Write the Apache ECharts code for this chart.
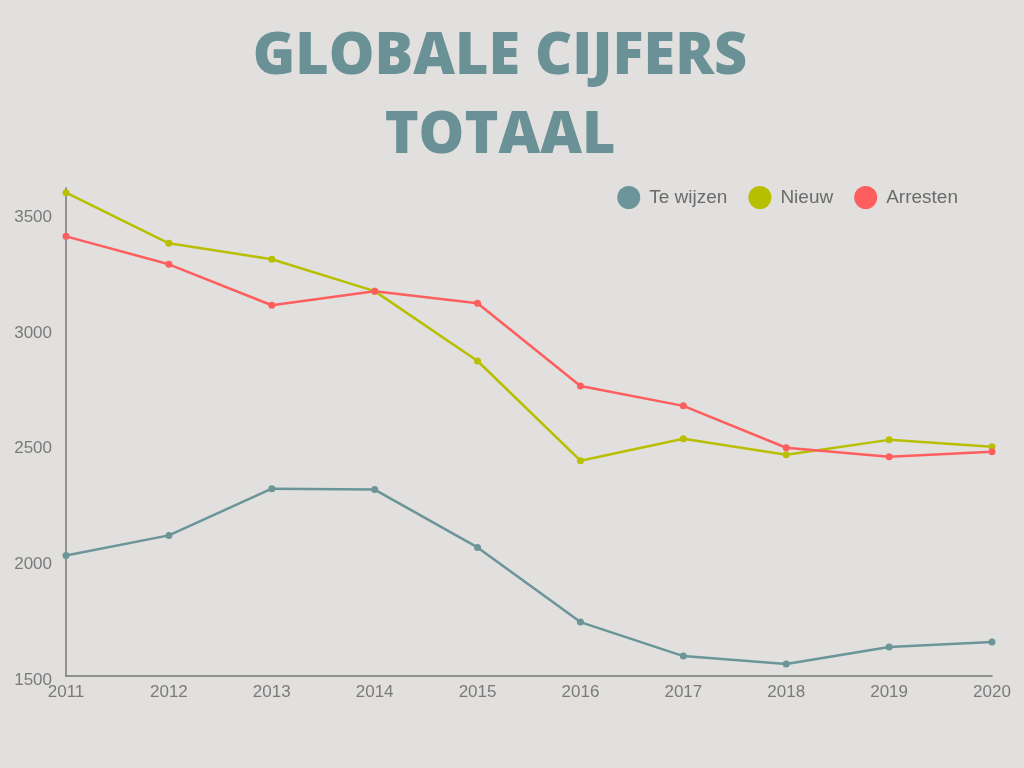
<!DOCTYPE html>
<html><head><meta charset="utf-8">
<script src="https://cdn.jsdelivr.net/npm/echarts@6/dist/echarts.min.js"></script>
<style>html,body{margin:0;padding:0;background:#e1e0de;}#c{width:1024px;height:768px;}</style>
</head><body><div id="c"></div>
<script>
var years = ['2011','2012','2013','2014','2015','2016','2017','2018','2019','2020'];
var teWijzen = [2021, 2108, 2310, 2306, 2056, 1733, 1586, 1552, 1625, 1647];
var nieuw = [3590, 3371, 3302, 3164, 2862, 2431, 2526, 2457, 2521, 2491];
var arresten = [3401, 3280, 3103, 3164, 3112, 2754, 2668, 2487, 2448, 2470];
var seriesNames = ['Te wijzen', 'Nieuw', 'Arresten'];
var colors = ['#6b9598', '#b7bf00', '#ff5e5e'];

var chart = echarts.init(document.getElementById('c'));
function mk(name, data, color){
  return {name:name, type:'line', data:data, symbol:'circle', symbolSize:7,
    lineStyle:{width:2.5,color:color}, itemStyle:{color:color}};
}
chart.setOption({
  backgroundColor:'#e1e0de',
  title:{text:'GLOBALE CIJFERS\nTOTAAL', left:495, top:13, textAlign:'center',
    textStyle:{fontFamily:'Open Sans', fontWeight:800, fontSize:57.5, color:'#6a9196', lineHeight:79}},
  legend:{data:seriesNames, right:61, top:181, icon:'circle', itemWidth:23, itemHeight:23, itemGap:21,
    textStyle:{fontFamily:'Liberation Sans', fontSize:19, color:'#6b6b6b', padding:[0,0,0,4]}},
  grid:{left:66, right:32, top:188, bottom:92},
  xAxis:{type:'category', data:years, boundaryGap:false,
    axisLine:{lineStyle:{color:'#777', width:1.5}}, axisTick:{show:false},
    axisLabel:{fontFamily:'Liberation Sans', fontSize:17, color:'#7a7a7a', margin:8}},
  yAxis:{type:'value', min:1500, max:3610, interval:500,
    axisLine:{show:true, lineStyle:{color:'#777', width:1.5}}, axisTick:{show:false},
    splitLine:{show:false},
    axisLabel:{color:'#7a7a7a', margin:14, showMaxLabel:false,
      formatter:function(v){return '{a|' + v + '}';},
      rich:{a:{fontFamily:'Liberation Sans', fontSize:17, color:'#7a7a7a', padding:[8,0,0,0]}}}},
  series:[mk(seriesNames[0], teWijzen, colors[0]), mk(seriesNames[1], nieuw, colors[1]), mk(seriesNames[2], arresten, colors[2])]
});
</script></body></html>
